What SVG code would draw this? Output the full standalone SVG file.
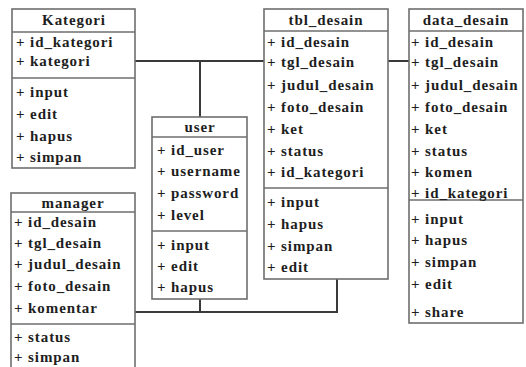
<svg xmlns="http://www.w3.org/2000/svg" width="526" height="367" viewBox="0 0 526 367">
  <style>
    .box { fill: #ffffff; stroke: #6e6e6e; stroke-width: 1.6; }
    .div { stroke: #6e6e6e; stroke-width: 1.6; }
    .conn { fill: none; stroke: #3a3a3a; stroke-width: 2; }
    text { font-family: "Liberation Serif", "Times New Roman", serif; font-weight: bold; font-size: 15px; letter-spacing: 0.9px; fill: #1e1e1e; }
    .title { text-anchor: middle; }
  </style>
  <rect width="526" height="367" fill="#ffffff"/>

  <!-- associations between classes -->
  <g id="connectors">
    <path class="conn" d="M135,61 H264"/>
    <path class="conn" d="M200,61 V117"/>
    <path class="conn" d="M388,61 H409"/>
    <path class="conn" d="M135,312 H337 V279"/>
    <path class="conn" d="M200,299 V312"/>
  </g>

  <g id="kategori">
    <rect class="box" x="12" y="9" width="123" height="159"/>
    <line class="div" x1="12" y1="32" x2="135" y2="32"/>
    <line class="div" x1="12" y1="78" x2="135" y2="78"/>
    <text class="title" x="74" y="25">Kategori</text>
    <text x="16" y="47">+ id_kategori</text>
    <text x="16" y="66">+ kategori</text>
    <text x="16" y="97">+ input</text>
    <text x="16" y="119">+ edit</text>
    <text x="16" y="141">+ hapus</text>
    <text x="16" y="162">+ simpan</text>
  </g>

  <g id="user">
    <rect class="box" x="152" y="117" width="95" height="182"/>
    <line class="div" x1="152" y1="137" x2="247" y2="137"/>
    <line class="div" x1="152" y1="231" x2="247" y2="231"/>
    <text class="title" x="200" y="132">user</text>
    <text x="157" y="155">+ id_user</text>
    <text x="157" y="176">+ username</text>
    <text x="157" y="198">+ password</text>
    <text x="157" y="220">+ level</text>
    <text x="157" y="250">+ input</text>
    <text x="157" y="271">+ edit</text>
    <text x="157" y="292">+ hapus</text>
  </g>

  <g id="manager">
    <rect class="box" x="11" y="193" width="124" height="190"/>
    <line class="div" x1="11" y1="212" x2="135" y2="212"/>
    <line class="div" x1="11" y1="324" x2="135" y2="324"/>
    <text class="title" x="73" y="208">manager</text>
    <text x="14" y="227">+ id_desain</text>
    <text x="14" y="248">+ tgl_desain</text>
    <text x="14" y="269">+ judul_desain</text>
    <text x="14" y="291">+ foto_desain</text>
    <text x="14" y="313">+ komentar</text>
    <text x="14" y="342">+ status</text>
    <text x="14" y="362">+ simpan</text>
  </g>

  <g id="tbl_desain">
    <rect class="box" x="264" y="9" width="124" height="270"/>
    <line class="div" x1="264" y1="31" x2="388" y2="31"/>
    <line class="div" x1="264" y1="188" x2="388" y2="188"/>
    <text class="title" x="326" y="25">tbl_desain</text>
    <text x="267" y="47">+ id_desain</text>
    <text x="267" y="67">+ tgl_desain</text>
    <text x="267" y="90">+ judul_desain</text>
    <text x="267" y="112">+ foto_desain</text>
    <text x="267" y="134">+ ket</text>
    <text x="267" y="156">+ status</text>
    <text x="267" y="177">+ id_kategori</text>
    <text x="267" y="207">+ input</text>
    <text x="267" y="229">+ hapus</text>
    <text x="267" y="251">+ simpan</text>
    <text x="267" y="272">+ edit</text>
  </g>

  <g id="data_desain">
    <rect class="box" x="409" y="9" width="114" height="314"/>
    <line class="div" x1="409" y1="31" x2="523" y2="31"/>
    <line class="div" x1="409" y1="200" x2="523" y2="200"/>
    <text class="title" x="466" y="25">data_desain</text>
    <text x="411" y="47">+ id_desain</text>
    <text x="411" y="67">+ tgl_desain</text>
    <text x="411" y="90">+ judul_desain</text>
    <text x="411" y="112">+ foto_desain</text>
    <text x="411" y="134">+ ket</text>
    <text x="411" y="156">+ status</text>
    <text x="411" y="177">+ komen</text>
    <text x="411" y="198">+ id_kategori</text>
    <text x="411" y="224">+ input</text>
    <text x="411" y="245">+ hapus</text>
    <text x="411" y="267">+ simpan</text>
    <text x="411" y="289">+ edit</text>
    <text x="411" y="317">+ share</text>
  </g>
</svg>
